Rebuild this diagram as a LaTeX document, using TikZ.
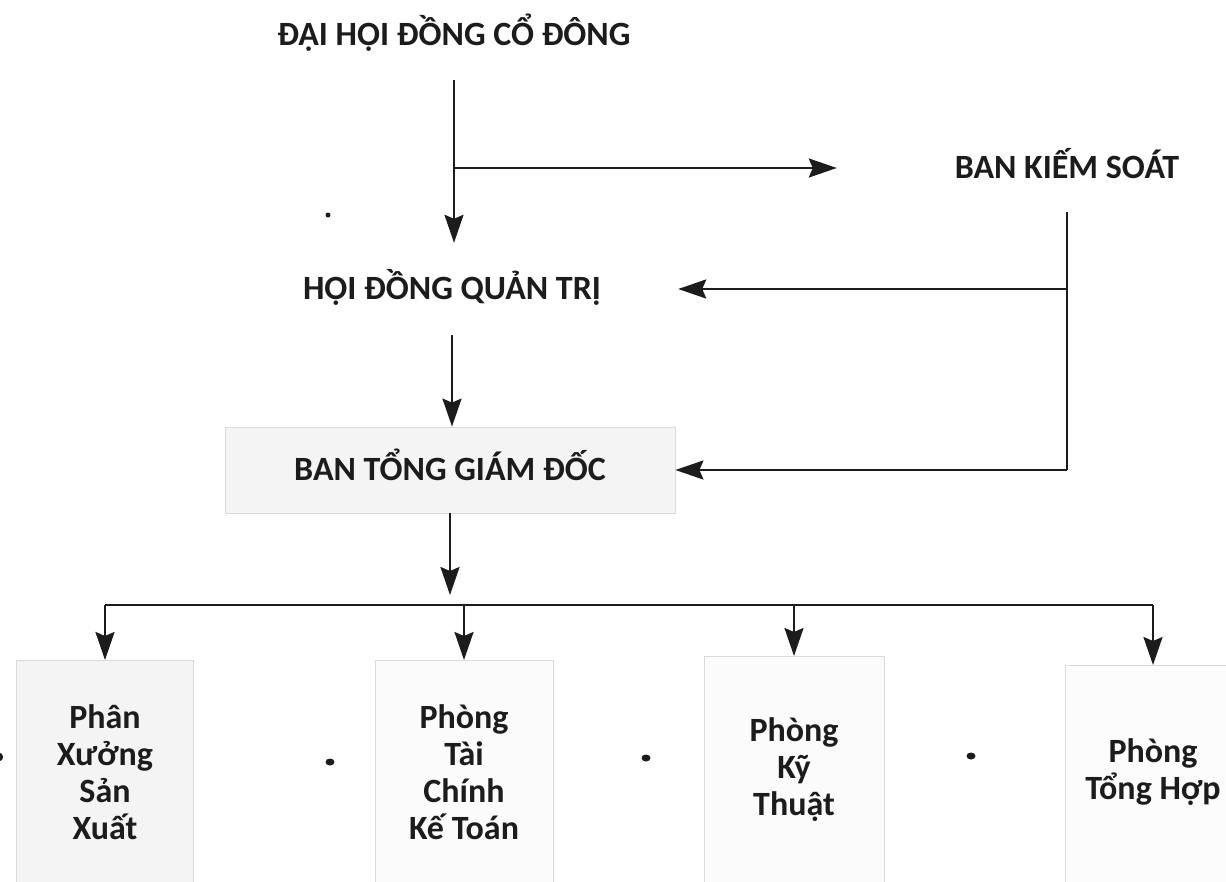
\documentclass[tikz,border=0pt]{standalone}
\usepackage{fontspec}
\setmainfont{Carlito}
\usetikzlibrary{arrows.meta}
\definecolor{ink}{HTML}{1C1C1C}
\definecolor{paneledge}{HTML}{DADADA}
\begin{document}
\begin{tikzpicture}[x=1pt,y=-1pt,
  lbl/.style={font=\fontsize{34}{37}\selectfont\bfseries, text=ink, inner sep=0pt,
              text height=22pt, text depth=1pt},
  unit/.style={font=\fontsize{34}{37}\selectfont\bfseries, text=ink, inner sep=0pt, align=center},
  arr/.style={line width=2.4pt, draw=ink, -{Stealth[length=28pt,width=19pt,inset=4pt]}},
  wire/.style={line width=2.4pt, draw=ink},
  panel/.style={draw=paneledge, line width=0.8pt, fill=#1, inner sep=0pt},
]
\useasboundingbox (0,0) rectangle (1226,881);

% upper levels
\node[lbl, minimum height=90pt] (dh) at (454,35) {ĐẠI HỘI ĐỒNG CỔ ĐÔNG};
\node[lbl, minimum width=460pt, minimum height=88pt] (bks) at (1067,168) {BAN KIẾM SOÁT};
\node[lbl, minimum width=452pt, minimum height=92pt] (hd) at (452,289) {HỘI ĐỒNG QUẢN TRỊ};
\node[lbl, panel=gray!9, minimum width=450pt, minimum height=86pt] (bt) at (450,470) {BAN TỔNG GIÁM ĐỐC};

\draw[arr] (dh.south) -- (dh.south |- hd.north);
\draw[arr] (dh.south |- bks) -- (bks.west);
\draw[arr] (hd.south) -- (hd.south |- bt.north);

\draw[wire] (bks.south) -- (bks.south |- bt.east);
\draw[arr] (bks.south |- hd.east) -- (hd.east);
\draw[arr] (bks.south |- bt.east) -- (bt.east);

% departments
\node[panel=gray!9, minimum width=177pt, minimum height=240pt, anchor=north] (p1) at (105,660) {};
\node[panel=gray!3, minimum width=178pt, minimum height=240pt, anchor=north] (p2) at (464,660) {};
\node[panel=gray!3, minimum width=180pt, minimum height=240pt, anchor=north] (p3) at (794,656) {};
\node[panel=gray!2, minimum width=176pt, minimum height=240pt, anchor=north] (p4) at (1153,665) {};

\node[unit] (t1) at (105,772) {Phân\\Xưởng\\Sản\\Xuất};
\node[unit] (t2) at (464,772) {Phòng\\Tài\\Chính\\Kế Toán};
\node[unit] (t3) at (794,770) {Phòng\\Kỹ\\Thuật};
\node[unit] (t4) at (1153,772) {Phòng\\Tổng Hợp};

\coordinate (bus) at (450,605);
\coordinate (drop) at (450,595);
\draw[arr] (bt.south) -- (drop);
\draw[wire] (p1.north |- bus) -- (p4.north |- bus);
\foreach \p in {p1,p2,p3,p4}
  \draw[arr] (\p.north |- bus) -- (\p.north);

% specks
\fill[ink] (328,215) circle (2.5);
\fill[ink] (330,762) ellipse (4.5 and 3.5);
\fill[ink] (646,758) ellipse (4.5 and 3.5);
\fill[ink] (971,756) ellipse (4.5 and 3.5);
\fill[ink] (0,757) ellipse (3 and 4);
\end{tikzpicture}
\end{document}
